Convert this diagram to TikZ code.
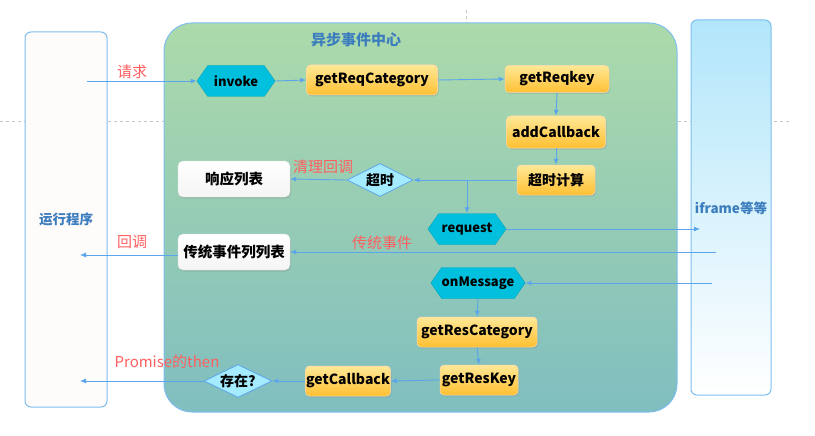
\documentclass[tikz,border=0pt]{standalone}
\usepackage{fontspec}
\setmainfont{Noto Sans CJK SC}
\usetikzlibrary{arrows.meta, shapes.geometric, shapes.symbols, shadows}
\definecolor{linkblue}{RGB}{90,165,235}
\definecolor{rimblue}{RGB}{125,190,240}
\definecolor{labelred}{RGB}{255,95,95}
\definecolor{titleblue}{RGB}{60,125,190}
\definecolor{hexcyan}{RGB}{0,192,222}
\definecolor{orangetop}{RGB}{255,232,150}
\definecolor{orangebot}{RGB}{255,192,50}
\definecolor{diamondcyan}{RGB}{165,235,255}
\definecolor{greentop}{RGB}{172,218,170}
\definecolor{greenbot}{RGB}{128,190,192}
\definecolor{frametop}{RGB}{178,230,250}
\definecolor{runfill}{RGB}{254,251,251}
\tikzset{
	link/.style={draw=linkblue, line width=0.9pt, -{Latex[length=6pt, width=5pt]}},
	hexbox/.style={signal, signal to=west and east, signal pointer angle=110,
		fill=hexcyan, draw=hexcyan!85!black, line width=0.4pt,
		minimum height=31pt, inner sep=0pt, font=\bfseries\fontsize{13}{15}\selectfont},
	stepbox/.style={rectangle, rounded corners=4pt, top color=orangetop, bottom color=orangebot,
		draw=white!70!orange, line width=0.5pt, minimum height=30pt, inner sep=0pt,
		drop shadow={opacity=0.25, shadow xshift=1pt, shadow yshift=-1.5pt},
		font=\bfseries\fontsize{14}{16}\selectfont},
	listbox/.style={rectangle, rounded corners=5pt, top color=white, bottom color=gray!8,
		draw=gray!25, line width=0.4pt, minimum width=112pt, minimum height=36pt,
		drop shadow={opacity=0.25, shadow xshift=1pt, shadow yshift=-1.5pt},
		font=\bfseries\fontsize{14.5}{16}\selectfont},
	checkbox/.style={diamond, aspect=2, fill=diamondcyan, draw=linkblue, line width=0.8pt,
		minimum width=68pt, minimum height=33pt, inner sep=0pt,
		font=\bfseries\fontsize{14}{16}\selectfont},
	redlabel/.style={text=labelred, font=\fontsize{15}{17}\selectfont},
	lanelabel/.style={text=titleblue, font=\bfseries\fontsize{13.5}{15}\selectfont}
}

\begin{document}
\begin{tikzpicture}[x=1pt, y=-1pt]
	\useasboundingbox (0,0) rectangle (815,436);
	\draw[gray!45, dashed] (0,121) -- (790,121);
	\draw[gray!45, dashed] (466,10) -- (466,24);
	
	\draw[draw=rimblue, line width=1pt, rounded corners=6pt, fill=runfill] (25,32) rectangle (107,407);
	\draw[draw=rimblue, line width=1pt, rounded corners=28pt, top color=greentop, bottom color=greenbot] (164,23) rectangle (677,412);
	\draw[draw=rimblue, line width=1pt, rounded corners=6pt, top color=frametop, bottom color=white] (691,20) rectangle (771,395);
	
	\node[lanelabel] (runlabel) at (66,219) {运行程序};
	\node[lanelabel, font=\bfseries\fontsize{15}{17}\selectfont] (centerlabel) at (356,40) {异步事件中心};
	\node[lanelabel] (framelabel) at (731,208) {iframe等等};
	
	\node[hexbox, minimum width=78pt] (invoke) at (236,81) {invoke};
	\node[stepbox, minimum width=131pt] (reqcat) at (372,80) {getReqCategory};
	\node[stepbox, minimum width=104pt, minimum height=27pt] (reqkey) at (557,79) {getReqkey};
	\node[stepbox, minimum width=99pt, minimum height=32pt] (addcb) at (556,132) {addCallback};
	\node[stepbox, minimum width=78pt] (timecalc) at (556,180) {超时计算};
	\node[checkbox, minimum width=66pt] (timeout) at (380,180) {超时};
	\node[listbox] (resplist) at (234,179) {响应列表};
	\node[hexbox, minimum width=78pt] (request) at (467,229) {request};
	\node[listbox] (eventlist) at (234,252) {传统事件列列表};
	\node[hexbox, minimum width=91pt] (onmsg) at (478,283) {onMessage};
	\node[stepbox, minimum width=120pt] (rescat) at (477,332) {getResCategory};
	\node[stepbox, minimum width=78pt] (reskey) at (479,380) {getResKey};
	\node[stepbox, minimum width=85pt] (getcb) at (348,381) {getCallback};
	\node[checkbox] (exists) at (238,381) {存在?};
	
	\coordinate (reqstart) at (87,81);
	\coordinate (cbend) at (80,255);
	\coordinate (thenend) at (80,381);
	\coordinate (frameend) at (700,229);
	\coordinate (eventstart) at (716,252);
	\coordinate (msgstart) at (712,283);
	\coordinate (split) at (timecalc.west -| request.north);
	
	\draw[link] (reqstart) -- (invoke.west);
	\draw[link] (invoke.east) -- (reqcat.west);
	\draw[link] (reqcat.east) -- (reqkey.west);
	\draw[link] (reqkey.south) -- (addcb.north);
	\draw[link] (addcb.south) -- (timecalc.north);
	\draw[link] (timecalc.west) -- (timeout.east);
	\draw[link] (split) -- (request.north);
	\draw[link] (timeout.west) -- (resplist.east);
	\draw[link] (request.east) -- (frameend);
	\draw[link] (eventstart) -- (eventlist.east |- eventstart);
	\draw[link] (eventlist.west |- cbend) -- (cbend);
	\draw[link] (msgstart) -- (onmsg.east);
	\draw[link] (onmsg.south) -- (rescat.north);
	\draw[link] (rescat.south) -- (reskey.north);
	\draw[link] (reskey.west) -- (getcb.east);
	\draw[link] (getcb.west) -- (exists.east);
	\draw[link] (exists.west) -- (thenend);
	
	\node[redlabel] (reqlabel) at (132,72) {请求};
	\node[redlabel] (cleanlabel) at (323,167) {清理回调};
	\node[redlabel] (cblabel) at (132,242) {回调};
	\node[redlabel] (eventlabel) at (382,243) {传统事件};
	\node[redlabel] (thenlabel) at (167,362) {Promise的then};
\end{tikzpicture}
\end{document}
